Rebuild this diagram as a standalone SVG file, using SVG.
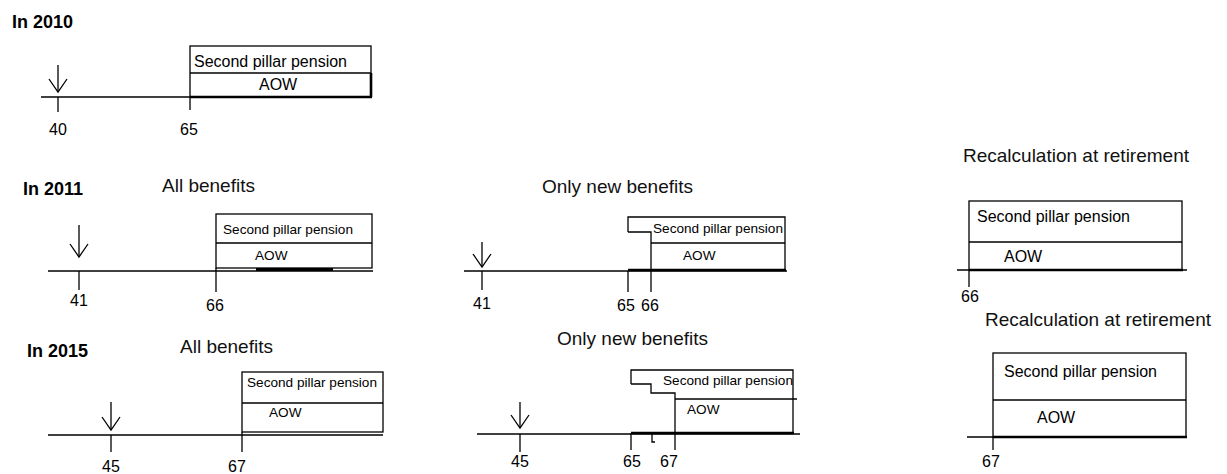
<svg xmlns="http://www.w3.org/2000/svg" width="1227" height="474" viewBox="0 0 1227 474">
<style>
.ln{stroke:#000;stroke-width:1.3;fill:none}
.bx{stroke:#000;stroke-width:1.3;fill:#fff}
.th{stroke:#000;stroke-width:2.6;fill:none}
.h{font-family:"Liberation Sans",Arial,sans-serif;font-weight:bold;font-size:18px;fill:#000}
.t{font-family:"Liberation Sans",Arial,sans-serif;font-size:19px;fill:#111}
.b{font-family:"Liberation Sans",Arial,sans-serif;font-size:16px;fill:#000}
.s{font-family:"Liberation Sans",Arial,sans-serif;font-size:13.6px;fill:#000}
.n{font-family:"Liberation Sans",Arial,sans-serif;font-size:16px;fill:#000;text-anchor:middle}
</style>
<defs>
<path id="arr" d="M-9,-13 L0,0 L9,-13" class="ln"/>
</defs>
<rect width="1227" height="474" fill="#fff"/>

<!-- Headings -->
<g id="headings">
<text class="h" x="12" y="28">In 2010</text>
<text class="h" x="23" y="195">In 2011</text>
<text class="h" x="27" y="357">In 2015</text>
<text class="t" x="162" y="192">All benefits</text>
<text class="t" x="542" y="193">Only new benefits</text>
<text class="t" x="963" y="162">Recalculation at retirement</text>
<text class="t" x="180" y="353">All benefits</text>
<text class="t" x="557" y="345">Only new benefits</text>
<text class="t" x="985" y="326">Recalculation at retirement</text>
</g>

<!-- Connectors: timelines, ticks and arrows -->
<g id="connectors">
<!-- 2010 -->
<line class="ln" x1="41" y1="97" x2="372" y2="97"/>
<line class="ln" x1="58" y1="65" x2="58" y2="92"/>
<use href="#arr" x="58" y="92"/>
<line class="ln" x1="58" y1="97" x2="58" y2="112"/>
<line class="ln" x1="190" y1="97" x2="190" y2="110"/>
<!-- 2011 all -->
<line class="ln" x1="48" y1="271" x2="373" y2="271"/>
<line class="ln" x1="79" y1="225" x2="79" y2="257"/>
<use href="#arr" x="79" y="257"/>
<line class="ln" x1="79" y1="271" x2="79" y2="290"/>
<line class="ln" x1="216" y1="268" x2="216" y2="292"/>
<!-- 2011 new -->
<line class="ln" x1="464" y1="271" x2="787" y2="271"/>
<line class="ln" x1="482" y1="242" x2="482" y2="267"/>
<use href="#arr" x="482" y="267"/>
<line class="ln" x1="482" y1="271" x2="482" y2="290"/>
<line class="ln" x1="628" y1="271" x2="628" y2="292"/>
<line class="ln" x1="651" y1="271" x2="651" y2="292"/>
<!-- 2011 recalc -->
<line class="ln" x1="957" y1="270" x2="1187" y2="270"/>
<line class="ln" x1="969" y1="270" x2="969" y2="287"/>
<!-- 2015 all -->
<line class="ln" x1="48" y1="435" x2="383" y2="435"/>
<line class="ln" x1="111" y1="402" x2="111" y2="430"/>
<use href="#arr" x="111" y="430"/>
<line class="ln" x1="111" y1="435" x2="111" y2="452"/>
<line class="ln" x1="242" y1="432" x2="242" y2="452"/>
<!-- 2015 new -->
<line class="ln" x1="477" y1="434" x2="800" y2="434"/>
<line class="ln" x1="520" y1="402" x2="520" y2="428"/>
<use href="#arr" x="520" y="428"/>
<line class="ln" x1="520" y1="434" x2="520" y2="452"/>
<line class="ln" x1="631" y1="433" x2="631" y2="450"/>
<path class="ln" d="M652,433 L652,442 L655,442"/>
<line class="ln" x1="675" y1="433" x2="675" y2="450"/>
<!-- 2015 recalc -->
<line class="ln" x1="967" y1="437" x2="1187" y2="437"/>
<line class="ln" x1="993" y1="437" x2="993" y2="450"/>
</g>

<!-- 2010 box -->
<g id="box2010">
<rect class="bx" x="190" y="46" width="181" height="51"/>
<line class="ln" x1="190" y1="73" x2="371" y2="73"/>
<line class="th" x1="371" y1="73" x2="371" y2="97"/>
<line class="th" x1="190" y1="97" x2="372" y2="97"/>
<text class="b" x="194" y="67">Second pillar pension</text>
<text class="b" x="259" y="90">AOW</text>
</g>

<!-- 2011 all benefits box -->
<g id="box2011all">
<rect class="bx" x="216" y="214" width="156" height="54"/>
<line class="ln" x1="216" y1="243" x2="372" y2="243"/>
<rect x="256" y="268" width="77" height="3" fill="#000"/>
<text class="s" x="223" y="234">Second pillar pension</text>
<text class="s" x="255" y="260">AOW</text>
</g>

<!-- 2011 only new benefits box -->
<g id="box2011new">
<path class="ln" d="M628,232 L628,217 L785,217 L785,270 M628,232 L651,232 L651,271"/>
<line class="ln" x1="651" y1="243" x2="785" y2="243"/>
<line class="th" x1="628" y1="270" x2="786" y2="270"/>
<text class="s" x="653" y="233">Second pillar pension</text>
<text class="s" x="683" y="260">AOW</text>
</g>

<!-- 2011 recalculation box -->
<g id="box2011recalc">
<rect class="bx" x="969" y="201" width="213" height="69"/>
<line class="ln" x1="969" y1="242" x2="1182" y2="242"/>
<line class="th" x1="969" y1="270" x2="1183" y2="270"/>
<text class="b" x="977" y="222">Second pillar pension</text>
<text class="b" x="1004" y="262">AOW</text>
</g>

<!-- 2015 all benefits box -->
<g id="box2015all">
<rect class="bx" x="242" y="372" width="141" height="60"/>
<line class="ln" x1="242" y1="403" x2="383" y2="403"/>
<text class="s" x="247" y="387">Second pillar pension</text>
<text class="s" x="269" y="417">AOW</text>
</g>

<!-- 2015 only new benefits box -->
<g id="box2015new">
<path class="ln" d="M631,384 L631,370 L793,370 L793,433 M631,384 L651,384 L651,393 L675,393 L675,434"/>
<line class="ln" x1="675" y1="399" x2="797" y2="399"/>
<line class="th" x1="631" y1="433" x2="794" y2="433"/>
<text class="s" x="663" y="385">Second pillar pension</text>
<text class="s" x="687" y="414">AOW</text>
</g>

<!-- 2015 recalculation box -->
<g id="box2015recalc">
<rect class="bx" x="993" y="353" width="193" height="84"/>
<line class="ln" x1="993" y1="400" x2="1186" y2="400"/>
<line class="th" x1="993" y1="437" x2="1187" y2="437"/>
<text class="b" x="1004" y="377">Second pillar pension</text>
<text class="b" x="1037" y="423">AOW</text>
</g>

<!-- Age labels -->
<g id="ages">
<text class="n" x="58" y="135">40</text>
<text class="n" x="189" y="135">65</text>
<text class="n" x="79" y="306">41</text>
<text class="n" x="215" y="311">66</text>
<text class="n" x="482" y="309">41</text>
<text class="n" x="626" y="311">65</text>
<text class="n" x="650" y="311">66</text>
<text class="n" x="970" y="302">66</text>
<text class="n" x="111" y="472">45</text>
<text class="n" x="237" y="472">67</text>
<text class="n" x="520" y="467">45</text>
<text class="n" x="632" y="467">65</text>
<text class="n" x="669" y="467">67</text>
<text class="n" x="991" y="467">67</text>
</g>
</svg>
